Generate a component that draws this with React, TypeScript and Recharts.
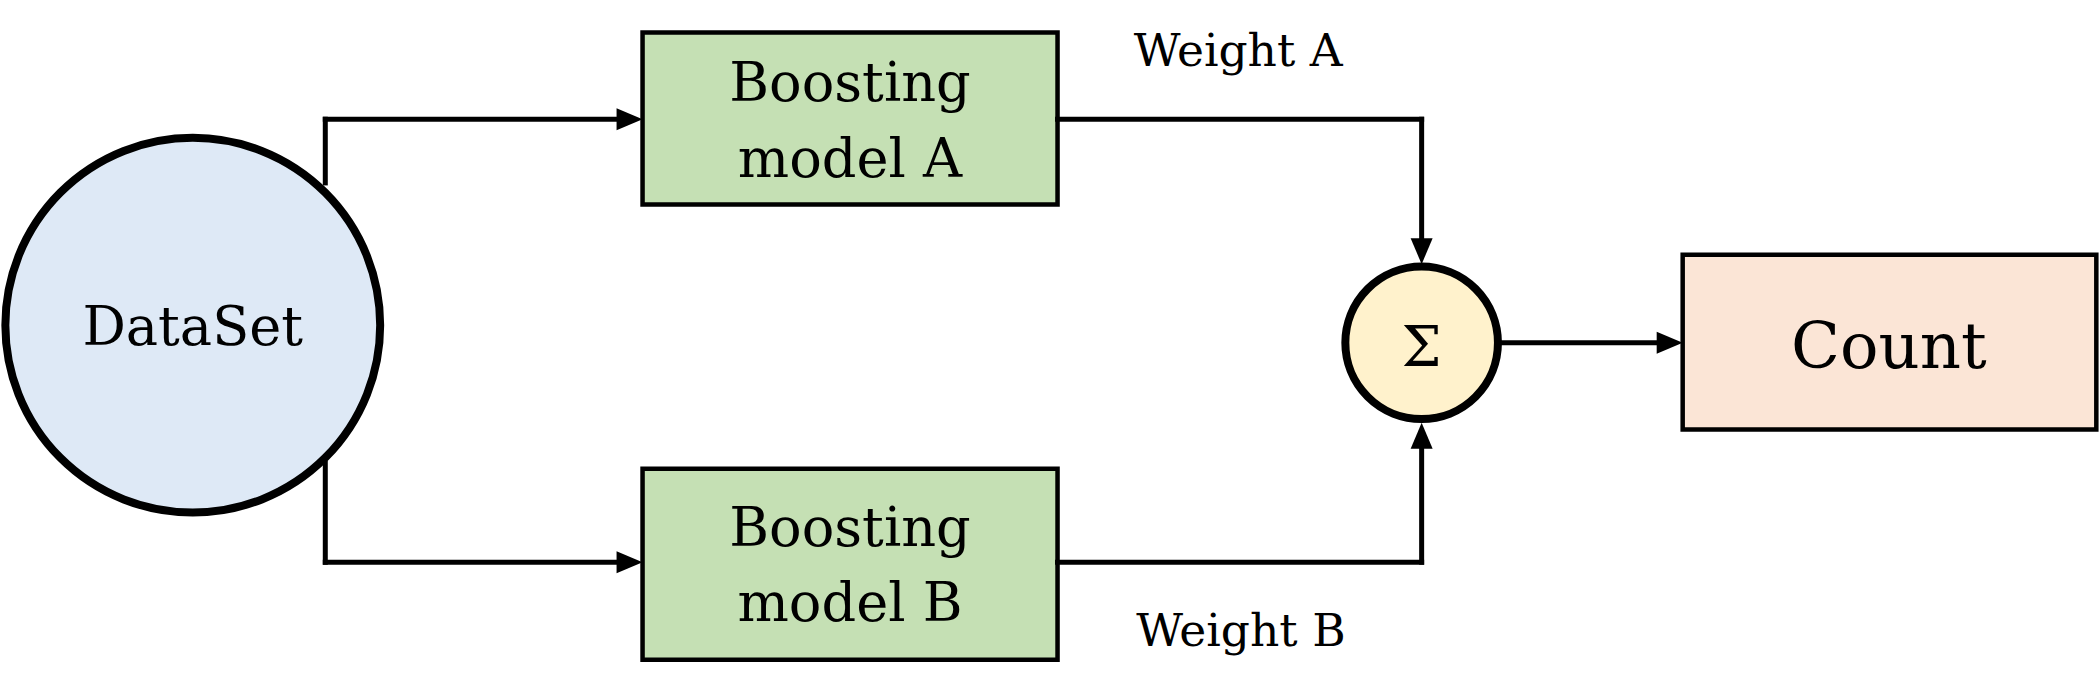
import React from 'react';
import { ScatterChart, Scatter, XAxis, YAxis, ReferenceArea, ReferenceLine, ReferenceDot } from 'recharts';

// diagram drawn in a 1568 x 510 coordinate space, scaled to the page
const W = 2099;
const H = 691;
const SX = W / 1568;
const FONT = '"DejaVu Serif", Georgia, serif';

const boxes = [
  { name: 'A', x1: 480, x2: 790, y1: 24, y2: 151, fill: '#c5e0b4' },
  { name: 'B', x1: 480, x2: 790, y1: 346, y2: 487, fill: '#c5e0b4' },
  { name: 'Count', x1: 1257, x2: 1566, y1: 188, y2: 317, fill: '#fbe5d6' },
];

const circles = [
  { name: 'DataSet', x: 144, y: 240, r: 140, fill: '#dee9f6' },
  { name: 'Sum', x: 1062, y: 253, r: 57, fill: '#fff2cc' },
];

const segments = [
  [[243, 135], [243, 88]], [[243, 88], [470, 88]],
  [[243, 342], [243, 415]], [[243, 415], [470, 415]],
  [[790, 88], [1062, 88]], [[1062, 88], [1062, 185]],
  [[790, 415], [1062, 415]], [[1062, 415], [1062, 322]],
  [[1121, 253], [1245, 253]],
];

const arrows = [
  { x: 480, y: 88, dir: 'right' },
  { x: 480, y: 415, dir: 'right' },
  { x: 1062, y: 195, dir: 'down' },
  { x: 1062, y: 312, dir: 'up' },
  { x: 1257, y: 253, dir: 'right' },
];

const labels = [
  { text: 'Boosting', x: 635, y: 61, size: 44 },
  { text: 'model A', x: 635, y: 117, size: 44 },
  { text: 'Boosting', x: 635, y: 389, size: 44 },
  { text: 'model B', x: 635, y: 445, size: 44 },
  { text: 'DataSet', x: 144, y: 241, size: 44 },
  { text: 'Count', x: 1411, y: 255, size: 52 },
  { text: 'Weight A', x: 925, y: 37, size: 37 },
  { text: 'Weight B', x: 927, y: 465, size: 37 },
  { text: 'Σ', x: 1062, y: 255, size: 46 },
];

const ArrowHead = (props: any) => {
  const { cx, cy, payload } = props;
  const L = 26, h = 11;
  let pts = '';
  if (payload.dir === 'right') pts = `${cx},${cy} ${cx - L},${cy - h} ${cx - L},${cy + h}`;
  if (payload.dir === 'down') pts = `${cx},${cy} ${cx - h},${cy - L} ${cx + h},${cy - L}`;
  if (payload.dir === 'up') pts = `${cx},${cy} ${cx - h},${cy + L} ${cx + h},${cy + L}`;
  return <polygon points={pts} fill="#000" />;
};

const Label = (props: any) => {
  const { cx, cy, payload } = props;
  return (
    <text x={cx} y={cy} textAnchor="middle" dominantBaseline="central"
      fontFamily={FONT} fontSize={payload.size * SX * 0.92} fill="#000">
      {payload.text}
    </text>
  );
};

export default function App() {
  return (
    <div style={{ position: 'fixed', left: 0, top: 0, background: '#fff' }}>
      <ScatterChart width={W} height={H} margin={{ top: 0, right: 0, bottom: 0, left: 0 }}>
        <XAxis type="number" dataKey="x" domain={[0, 1568]} hide />
        <YAxis type="number" dataKey="y" domain={[0, 510]} reversed hide />
        {segments.map((s, i) => (
          <ReferenceLine key={`s${i}`} segment={[{ x: s[0][0], y: s[0][1] }, { x: s[1][0], y: s[1][1] }]}
            stroke="#000" strokeWidth={5} strokeLinecap="square" />
        ))}
        {boxes.map(b => (
          <ReferenceArea key={b.name} x1={b.x1} x2={b.x2} y1={b.y1} y2={b.y2}
            fill={b.fill} fillOpacity={1} stroke="#000" strokeWidth={4.5} />
        ))}
        {circles.map(c => (
          <ReferenceDot key={c.name} x={c.x} y={c.y} r={c.r * SX}
            fill={c.fill} stroke="#000" strokeWidth={8} />
        ))}
        <Scatter data={arrows} shape={<ArrowHead />} isAnimationActive={false} />
        <Scatter data={labels} shape={<Label />} isAnimationActive={false} />
      </ScatterChart>
    </div>
  );
}
